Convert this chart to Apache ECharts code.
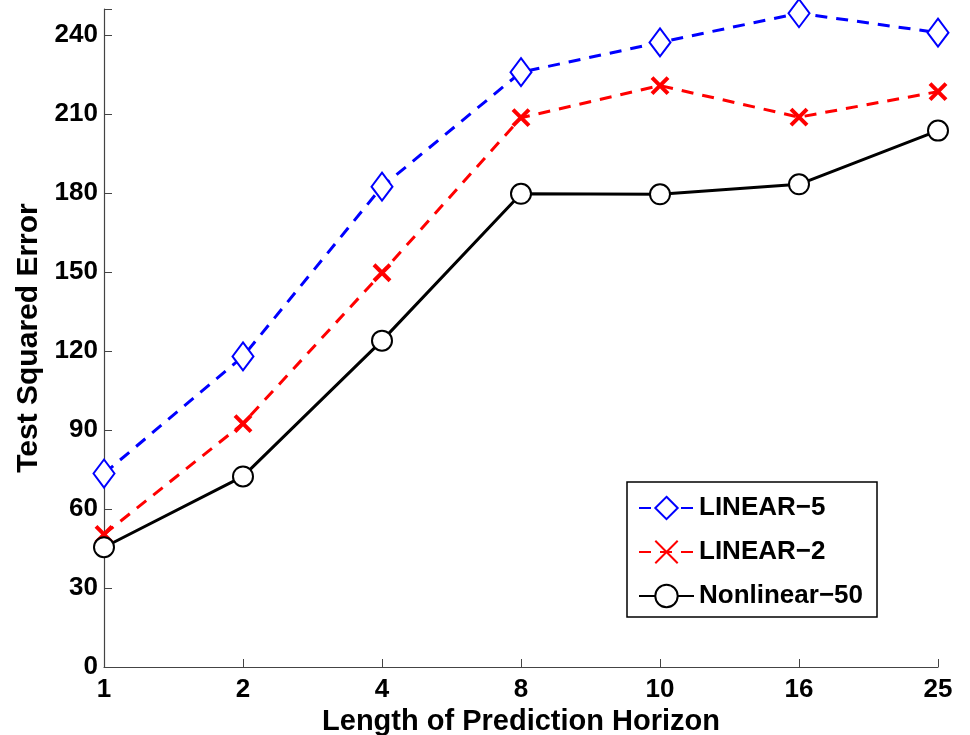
<!DOCTYPE html>
<html>
<head>
<meta charset="utf-8">
<script src="https://cdn.jsdelivr.net/npm/echarts@6/dist/echarts.min.js"></script>
<style>
  html, body { margin: 0; padding: 0; background: #fff; }
  #chart { width: 970px; height: 735px; }
</style>
</head>
<body>
<div id="chart"></div>
<script>
// horizon lengths (equally spaced categories)
const horizons = ['1', '2', '4', '8', '10', '16', '25'];
const linear5 = [73.5, 118, 182.5, 226, 237.3, 248.4, 241];
const linear2 = [50.4, 92.5, 149.8, 208.7, 220.9, 208.9, 218.6];
const nonlinear50 = [45.5, 72.4, 124, 179.8, 179.6, 183.4, 203.8];
const yTicks = [0, 30, 60, 90, 120, 150, 180, 210, 240];

const font = "'Liberation Sans', Arial, Helvetica, sans-serif";
const axisColor = '#444';
const crossPath = 'path://M0,0L10,10M10,0L0,10';

const chart = echarts.init(document.getElementById('chart'));

chart.setOption({
  animation: false,
  backgroundColor: '#fff',
  grid: { left: 104, right: 32, top: 9, bottom: 68, outerBoundsMode: 'none', containLabel: false },
  legend: {
    orient: 'vertical',
    left: 627,
    top: 482,
    itemWidth: 55,
    itemHeight: 28,
    itemGap: 18,
    padding: [13, 14, 8, 11],
    borderColor: '#000',
    borderWidth: 1.5,
    backgroundColor: '#fff',
    textStyle: { fontFamily: font, fontWeight: 'bold', fontSize: 26, color: '#000' },
    data: ['LINEAR\u22125', 'LINEAR\u22122', 'Nonlinear\u221250']
  },
  xAxis: {
    type: 'category',
    data: horizons,
    boundaryGap: false,
    name: 'Length of Prediction Horizon',
    nameLocation: 'middle',
    nameGap: 33,
    nameTextStyle: { fontFamily: font, fontWeight: 'bold', fontSize: 29, color: '#000' },
    axisLine: { lineStyle: { color: axisColor, width: 1.2 } },
    axisTick: { inside: true, length: 8, alignWithLabel: true, lineStyle: { color: axisColor } },
    axisLabel: { fontFamily: font, fontWeight: 'bold', fontSize: 26, color: '#000', margin: 10 },
    splitLine: { show: false }
  },
  yAxis: {
    type: 'value',
    min: 0,
    max: 250,
    interval: 30,
    name: 'Test Squared Error',
    nameLocation: 'middle',
    nameGap: 46,
    nameTextStyle: { fontFamily: font, fontWeight: 'bold', fontSize: 30, color: '#000' },
    axisLine: { show: true, lineStyle: { color: axisColor, width: 1.2 } },
    axisTick: { show: true, inside: true, length: 8, lineStyle: { color: axisColor } },
    axisLabel: {
      fontFamily: font, fontWeight: 'bold', fontSize: 26, color: '#000', margin: 6,
      formatter: v => (yTicks.includes(v) ? String(v) : '')
    },
    splitLine: { show: false }
  },
  series: [
    {
      name: 'LINEAR\u22125',
      type: 'line',
      data: linear5,
      symbol: 'emptyDiamond',
      symbolSize: [21, 28],
      lineStyle: { color: '#0000ff', width: 3, type: [12, 9] },
      itemStyle: { color: '#0000ff', borderColor: '#0000ff', borderWidth: 3 }
    },
    {
      name: 'LINEAR\u22122',
      type: 'line',
      data: linear2,
      symbol: crossPath,
      symbolSize: 16,
      lineStyle: { color: '#ff0000', width: 3, type: [12, 9] },
      itemStyle: { color: '#ff0000', borderColor: '#ff0000', borderWidth: 4 }
    },
    {
      name: 'Nonlinear\u221250',
      type: 'line',
      data: nonlinear50,
      symbol: 'emptyCircle',
      symbolSize: 20,
      lineStyle: { color: '#000', width: 3 },
      itemStyle: { color: '#000', borderColor: '#000', borderWidth: 3.5 }
    }
  ]
});
</script>
</body>
</html>
